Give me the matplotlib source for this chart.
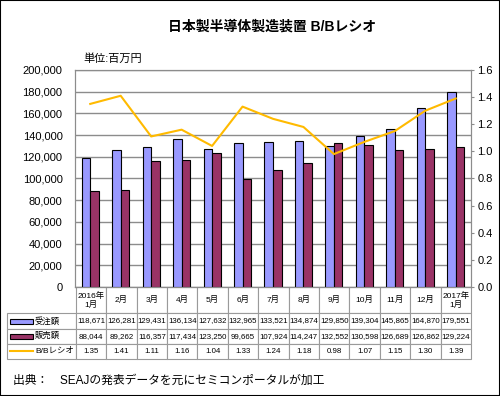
import matplotlib.pyplot as plt
from matplotlib.patches import Rectangle
from matplotlib.lines import Line2D
import numpy as np

plt.rcParams['font.family'] = ['Liberation Sans', 'Noto Sans CJK JP', 'DejaVu Sans']

# data (unit: million yen)
months = ['2016年\n1月', '2月', '3月', '4月', '5月', '6月', '7月',
          '8月', '9月', '10月', '11月', '12月', '2017年\n1月']
orders = [118671, 126281, 129431, 136134, 127632, 132965, 133521,
          134874, 129850, 139304, 145865, 164870, 179551]
sales = [88044, 89262, 116357, 117434, 123250, 99665, 107924,
         114247, 132552, 130598, 126689, 126862, 129224]
bb_ratio = [1.35, 1.41, 1.11, 1.16, 1.04, 1.33, 1.24,
            1.18, 0.98, 1.07, 1.15, 1.30, 1.39]
row_names = ['受注額', '販売額', 'B/Bレシオ']

blue = '#9999ff'
purple = '#993366'
gold = '#ffba00'
grid_gray = '#8c8c8c'

W, H = 500, 396
fig = plt.figure(figsize=(W / 100, H / 100), dpi=100)

# plot area in pixels
left, right, top, bottom = 75, 471, 70, 287
ax = fig.add_axes([left / W, 1 - bottom / H, (right - left) / W, (bottom - top) / H])

x = np.arange(len(months))
bw = 0.28
ax.bar(x - bw / 2, orders, bw, color=blue, edgecolor='black', linewidth=0.8, zorder=3)
ax.bar(x + bw / 2, sales, bw, color=purple, edgecolor='black', linewidth=0.8, zorder=3)
ax.set_xlim(-0.5, len(months) - 0.5)
ax.set_ylim(0, 200000)
yt = list(range(0, 200001, 20000))
ax.set_yticks(yt)
ax.set_yticklabels([f'{v:,}' for v in yt])
ax.tick_params(axis='y', length=0, labelsize=8, pad=9)
ax.set_xticks([])
ax.grid(axis='y', color=grid_gray, linewidth=1)
ax.set_axisbelow(True)
for s in ax.spines.values():
    s.set_color(grid_gray)

ax2 = ax.twinx()
ax2.plot(x, bb_ratio, color=gold, linewidth=1.5)
ax2.set_ylim(0, 1.6)
rt = np.arange(0, 1.61, 0.2)
ax2.set_yticks(rt)
ax2.set_yticklabels([f'{v:.1f}' for v in rt])
ax2.tick_params(axis='y', length=2.5, width=0.8, color=grid_gray, labelsize=8, pad=2)
for s in ax2.spines.values():
    s.set_color(grid_gray)

# data table under the plot
cell_text = [[''] + [f'{v:,}' for v in orders],
             [''] + [f'{v:,}' for v in sales],
             [''] + [f'{v:.2f}' for v in bb_ratio]]
col_labels = [''] + months
tx0, tx1, ty1 = 7, 471, 359
pw, ph = right - left, bottom - top
tab = ax.table(cellText=cell_text, colLabels=col_labels,
               colWidths=[69] + [pw / 13] * 13, cellLoc='center',
               bbox=[(tx0 - left) / pw, -(ty1 - bottom) / ph,
                     (tx1 - tx0) / pw, (ty1 - bottom) / ph])
tab.auto_set_font_size(False)
tab.set_fontsize(5.7)
for (r, c), cell in tab.get_celld().items():
    cell.set_edgecolor('#9a9a9a')
    cell.set_linewidth(0.8)
    cell.set_height(26 if r == 0 else 15)
    if r == 0:
        cell.get_text().set_fontsize(6)
tab[(0, 0)].set_visible(False)

# row labels with legend keys
row_y = [321, 336.2, 351.4]
for i, name in enumerate(row_names):
    yc = 1 - row_y[i] / H
    if i < 2:
        fig.add_artist(Rectangle((10 / W, yc - 2.5 / H), 23 / W, 5 / H,
                                 transform=fig.transFigure,
                                 facecolor=[blue, purple][i],
                                 edgecolor='black', linewidth=0.8))
    else:
        fig.add_artist(Line2D([10 / W, 33 / W], [yc, yc], transform=fig.transFigure,
                              color=gold, linewidth=1.5))
    fig.text(35 / W, yc, name, fontsize=6, ha='left', va='center')

fig.text(272 / W, 1 - 27 / H, '日本製半導体製造装置 B/Bレシオ',
         fontsize=10, fontweight='bold', ha='center', va='center')
fig.text(83 / W, 1 - 59 / H, '単位:百万円', fontsize=8, ha='left', va='center')
fig.text(13 / W, 1 - 381 / H, '出典：　SEAJの発表データを元にセミコンポータルが加工',
         fontsize=8.5, ha='left', va='center')

fig.add_artist(Rectangle((0, 0), 1, 1, transform=fig.transFigure,
                         fill=False, edgecolor='black', linewidth=1.5))

fig.savefig('out.png', dpi=100)
